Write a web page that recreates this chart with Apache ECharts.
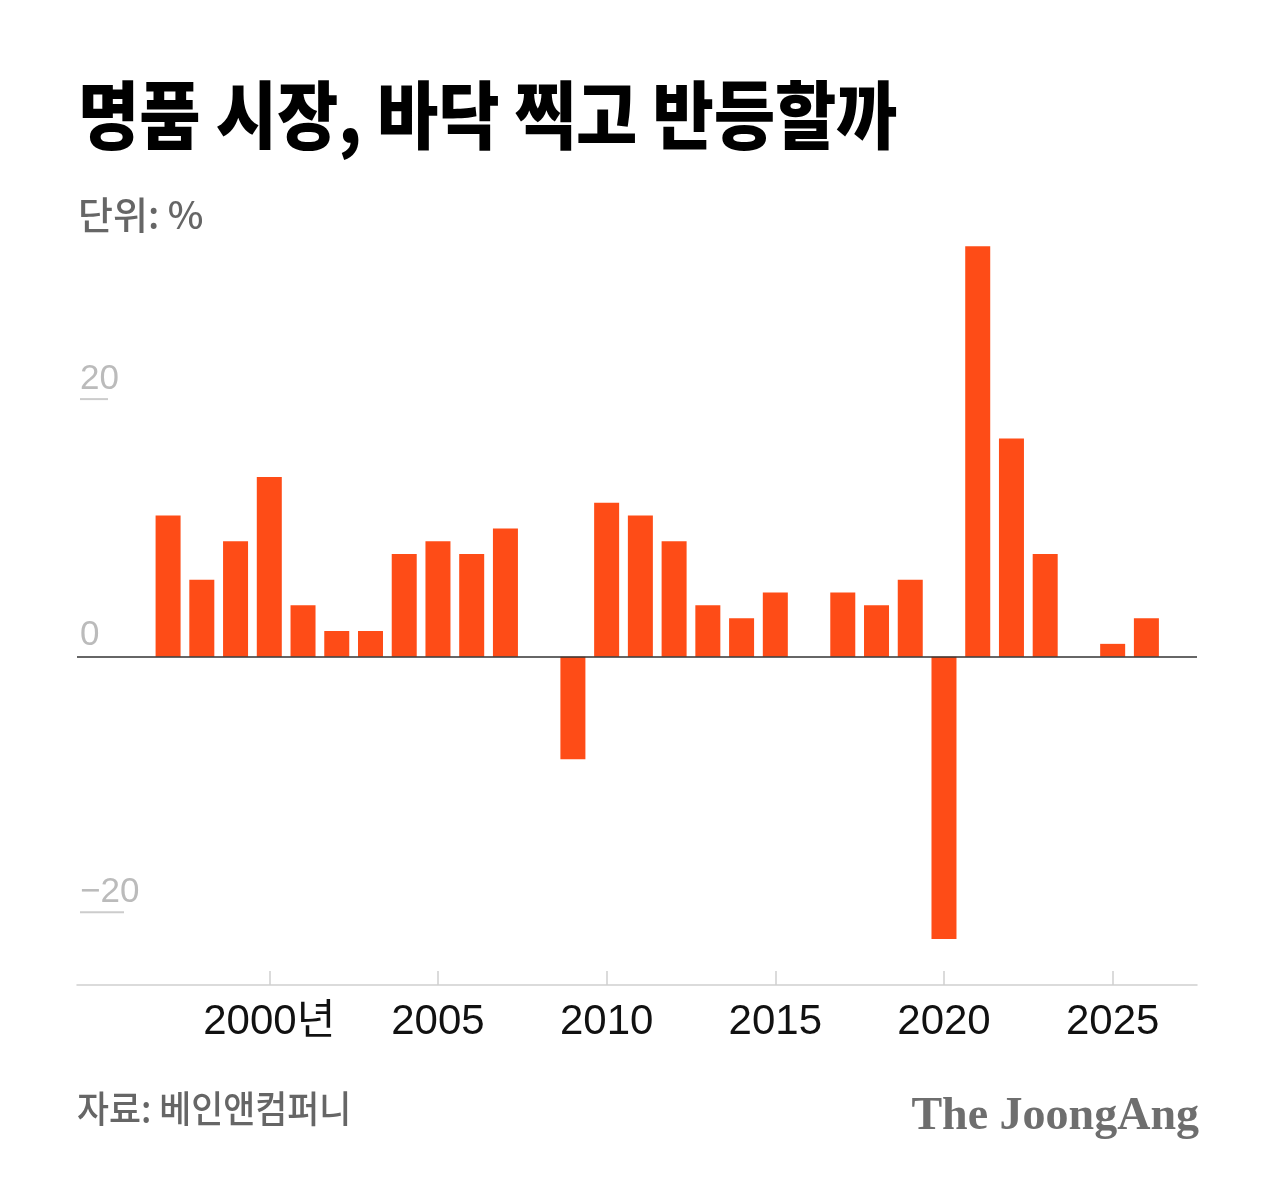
<!DOCTYPE html>
<html>
<head>
<meta charset="utf-8">
<title>명품 시장, 바닥 찍고 반등할까</title>
<script src="https://cdn.jsdelivr.net/npm/echarts@6/dist/echarts.min.js"></script>
<style>
  html, body { margin: 0; padding: 0; background: #fff; }
  #chart { width: 1280px; height: 1192px; }
</style>
</head>
<body>
<div id="chart"></div>
<script>
// 연도별 명품 시장 성장률 (단위: %)
var years = [1997, 1998, 1999, 2000, 2001, 2002, 2003, 2004, 2005, 2006,
             2007, 2008, 2009, 2010, 2011, 2012, 2013, 2014, 2015, 2016,
             2017, 2018, 2019, 2020, 2021, 2022, 2023, 2024, 2025, 2026];
var growth = [11, 6, 9, 14, 4, 2, 2, 8, 9, 8,
              10, 0, -8, 12, 11, 9, 4, 3, 5, 0,
              5, 4, 6, -22, 32, 17, 8, 0, 1, 3];
var xTicks = [2000, 2005, 2010, 2015, 2020, 2025];
var yTicks = [-20, 0, 20];

var KR = '"Noto Sans CJK KR", "Noto Sans", sans-serif';
var NUM = '"Liberation Sans", Arial, "Noto Sans CJK KR", sans-serif';

var chart = echarts.init(document.getElementById('chart'));

var barData = years.map(function (y, i) { return [y, growth[i]]; });

var option = {
    animation: false,
    backgroundColor: '#ffffff',
    grid: { left: 77, right: 83, top: 220.5, bottom: 206.9 },
    graphic: [
        {   // 제목
            type: 'text', x: 78, y: 78, scaleX: 0.9,
            style: {
                text: '명품 시장, 바닥 찍고 반등할까',
                font: '900 74px ' + KR, fill: '#000'
            }
        },
        {
            type: 'text', x: 78, y: 196,
            style: { text: '단위: %', font: '500 38px ' + KR, fill: '#666' }
        },
        {
            type: 'text', x: 77, y: 1090, scaleX: 0.94,
            style: { text: '자료: 베인앤컴퍼니', font: '500 37px ' + KR, fill: '#666' }
        },
        {
            type: 'text', x: 1199, y: 1094,
            style: {
                text: 'The JoongAng', align: 'right',
                font: 'bold 46px "Liberation Serif", "DejaVu Serif", serif',
                fill: '#6e6e6e'
            }
        }
    ],
    xAxis: {
        type: 'value',
        min: 1994.3,
        max: 2027.5,
        axisLine: { show: true, onZero: false, lineStyle: { color: '#d0d0d0', width: 1.5 } },
        axisTick: {
            show: true, inside: true, length: 14,
            customValues: xTicks,
            lineStyle: { color: '#d0d0d0', width: 1.5 }
        },
        axisLabel: {
            customValues: xTicks,
            margin: 16,
            color: '#111',
            fontFamily: NUM,
            fontSize: 42,
            formatter: function (v) { return v === 2000 ? '2000년' : String(v); }
        },
        splitLine: { show: false }
    },
    yAxis: {
        type: 'value',
        min: -25.6,
        max: 34,
        axisLine: { show: false },
        axisTick: { show: false },
        splitLine: { show: false },
        axisLabel: {
            customValues: yTicks,
            inside: true,
            margin: 3,
            align: 'left',
            verticalAlign: 'bottom',
            formatter: function (v) {
                if (v === 20) return '{v|20}\n{u20|}';
                if (v === -20) return '{v|\u221220}\n{un|}';
                return '{v|0}\n{u0|}';
            },
            rich: {
                v: { fontFamily: NUM, fontSize: 35, lineHeight: 38, color: '#bbbbbb' },
                u20: { width: 28, height: 2, backgroundColor: '#cccccc' },
                un: { width: 44, height: 2, backgroundColor: '#cccccc' },
                u0: { width: 1, height: 2 }
            }
        }
    },
    series: [
        {
            type: 'bar',
            data: barData,
            barWidth: 25,
            itemStyle: { color: '#fe4c17' },
            markLine: {
                silent: true,
                symbol: ['none', 'none'],
                label: { show: false },
                lineStyle: { color: '#333333', width: 1.5, type: 'solid' },
                data: [{ yAxis: 0 }]
            }
        }
    ]
};

chart.setOption(option);
</script>
</body>
</html>
